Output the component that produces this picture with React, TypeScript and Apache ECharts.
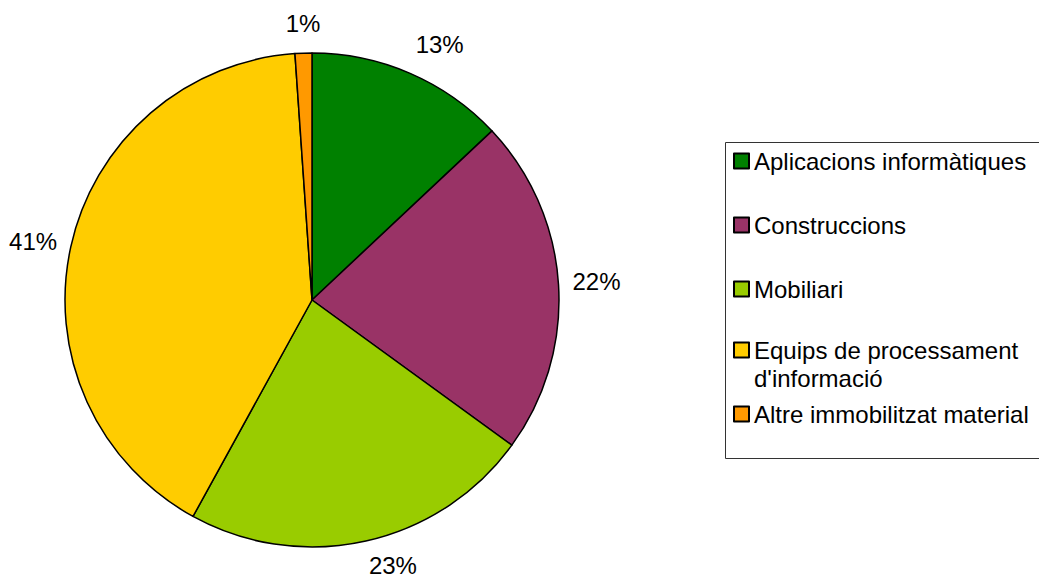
import React, { useEffect, useRef } from 'react';
import * as echarts from 'echarts';

const categories = [
  'Aplicacions informàtiques',
  'Construccions',
  'Mobiliari',
  "Equips de processament d'informació",
  'Altre immobilitzat material',
];
const values = [13.0, 22.0, 23.0, 40.9, 1.1];
const colors = ['#008000', '#993366', '#99CC00', '#FFCC00', '#FF9900'];

const FONT = '"Liberation Sans", Arial, sans-serif';
const CX = 312;
const CY = 300;
const RADIUS = 247;
const LABEL_GAP = 14;
const LABEL_W = 48;
const LABEL_H = 27;
const legendCenters = [161, 225, 289, 350, 414];

// Outside-label placement: anchor on the mid-angle ray just beyond the rim,
// label box attached to the anchor by the side/corner facing the pie.
function labelCenter(index: number, w: number, h: number) {
  const total = values.reduce((a, b) => a + b, 0);
  let cum = 0;
  for (let i = 0; i < index; i++) cum += values[i];
  const theta = (2 * Math.PI * (cum + values[index] / 2)) / total;
  const r = RADIUS + LABEL_GAP;
  const ax = CX + Math.sin(theta) * r;
  const ay = CY - Math.cos(theta) * r;
  let phi = 90 - (theta * 180) / Math.PI;
  phi = ((phi % 360) + 360) % 360;
  let ox = 0;
  let oy = 0;
  if (phi <= 22.5 || phi > 337.5) { ox = w / 2; }
  else if (phi < 80) { ox = w / 2; oy = -h / 2; }
  else if (phi < 100) { oy = -h / 2; }
  else if (phi <= 157.5) { ox = -w / 2; oy = -h / 2; }
  else if (phi <= 202.5) { ox = -w / 2; }
  else if (phi < 260) { ox = -w / 2; oy = h / 2; }
  else if (phi < 280) { oy = h / 2; }
  else { ox = w / 2; oy = h / 2; }
  return [ax + ox, ay + oy - 2.5];
}

export default function App() {
  const ref = useRef<HTMLDivElement>(null);
  useEffect(() => {
    document.body.style.margin = '0';
    const chart = echarts.init(ref.current!, null, { renderer: 'svg' });
    const data = categories.map((name, i) => ({
      name,
      value: values[i],
      itemStyle: { color: colors[i] },
    }));
    const legends = categories.map((name, i) => {
      const twoLine = i === 3;
      return {
        data: [name],
        left: 733,
        top: twoLine ? legendCenters[i] - 42 : legendCenters[i] - 14,
        orient: 'vertical',
        padding: 0,
        icon: 'rect',
        itemWidth: 15,
        itemHeight: 15,
        selectedMode: false,
        itemStyle: { borderColor: '#000', borderWidth: 2 },
        formatter: (n: string) =>
          twoLine ? " \nEquips de processament\nd'informació" : n,
        textStyle: {
          fontSize: 24,
          fontFamily: FONT,
          color: '#000',
          lineHeight: 28,
        },
      };
    });
    chart.setOption({
      animation: false,
      backgroundColor: '#fff',
      legend: legends,
      graphic: [
        {
          type: 'rect',
          shape: { x: 725.5, y: 142.5, width: 330, height: 316 },
          style: { fill: 'none', stroke: '#333', lineWidth: 1 },
          z: -1,
        },
      ],
      series: [
        {
          type: 'pie',
          center: [CX, CY],
          radius: RADIUS,
          startAngle: 90,
          clockwise: true,
          silent: true,
          itemStyle: { borderColor: '#000', borderWidth: 1.5 },
          label: {
            show: true,
            position: 'outside',
            color: '#000',
            fontSize: 24,
            fontFamily: FONT,
            width: LABEL_W,
            overflow: 'none',
            align: 'center',
            bleedMargin: 0,
            formatter: (p: any) => Math.round(p.percent) + '%',
          },
          labelLine: { show: false, length: 0, length2: 0 },
          labelLayout: (p: any) => {
            const [x, y] = labelCenter(p.dataIndex, LABEL_W, LABEL_H);
            return { x, y, align: 'center', verticalAlign: 'middle' };
          },
          data,
        },
      ],
    });
    return () => chart.dispose();
  }, []);
  return <div ref={ref} style={{ width: 1039, height: 580 }} />;
}
